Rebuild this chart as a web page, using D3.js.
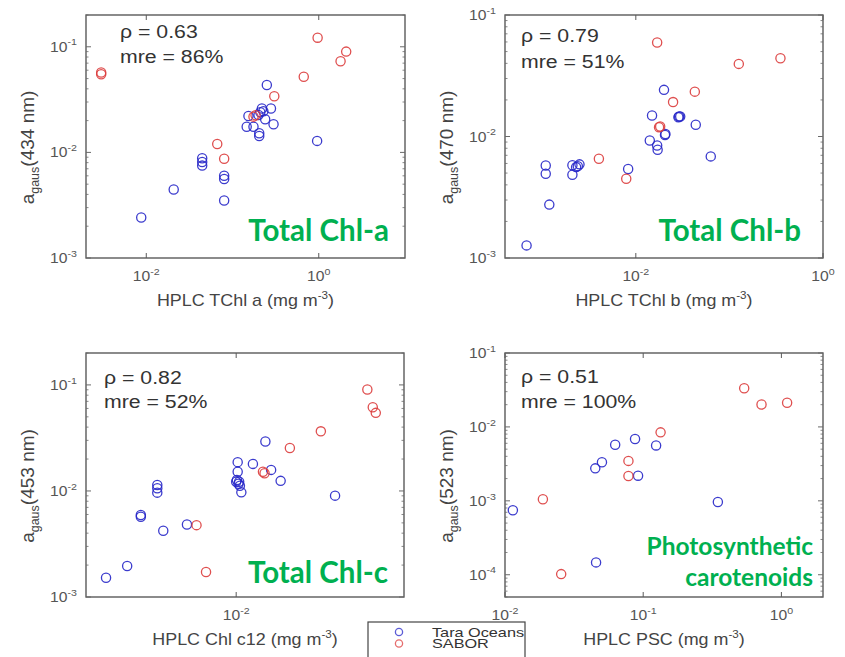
<!DOCTYPE html>
<html>
<head>
<meta charset="utf-8">
<script src="https://cdn.jsdelivr.net/npm/d3@7/dist/d3.min.js"></script>
<style>
  html, body { margin: 0; padding: 0; background: #fff; }
  svg { display: block; }
  text { font-family: "Liberation Sans", Arial, Helvetica, sans-serif; }
  .green { font-family: Lato, "Open Sans", sans-serif; font-weight: 700; fill: #00b050; }
</style>
</head>
<body>
<svg id="chart" width="845" height="657"></svg>
<script>
// ---------------- DATA ----------------
// Panel 1: Total Chl-a
const chlaTaraX  = [0.00874, 0.0208, 0.0445, 0.0445, 0.0445, 0.08, 0.08, 0.08, 0.25, 0.219, 0.228, 0.21, 0.279, 0.2, 0.153, 0.146, 0.175, 0.239, 0.299, 0.204, 0.204, 0.957];
const chlaTaraY  = [0.00242, 0.00445, 0.0088, 0.0081, 0.0075, 0.006, 0.0056, 0.0035, 0.0435, 0.026, 0.0245, 0.024, 0.026, 0.0226, 0.0221, 0.0175, 0.0175, 0.0206, 0.0185, 0.0152, 0.0143, 0.01285];
const chlaSaborX = [0.003, 0.003, 0.97, 2.08, 1.79, 0.67, 0.305, 0.175, 0.185, 0.0665, 0.08];
const chlaSaborY = [0.055, 0.057, 0.122, 0.09, 0.073, 0.052, 0.034, 0.0218, 0.0225, 0.012, 0.0087];

// Panel 2: Total Chl-b
const chlbTaraX  = [0.00068, 0.00119, 0.00109, 0.00109, 0.0021, 0.0023, 0.0025, 0.0021, 0.0024, 0.00828, 0.02, 0.0149, 0.0141, 0.0169, 0.0171, 0.0207, 0.0205, 0.029, 0.0298, 0.0285, 0.0437, 0.0632];
const chlbTaraY  = [0.00127, 0.00275, 0.00578, 0.00494, 0.0058, 0.0056, 0.0059, 0.00484, 0.0057, 0.0054, 0.0242, 0.0149, 0.00927, 0.00843, 0.00778, 0.0105, 0.0103, 0.0146, 0.0146, 0.0144, 0.01248, 0.00686];
const chlbSaborX = [0.0169, 0.126, 0.351, 0.0427, 0.025, 0.0177, 0.0182, 0.00403, 0.0079];
const chlbSaborY = [0.0593, 0.0396, 0.044, 0.0234, 0.0192, 0.0119, 0.0121, 0.00656, 0.00449];

// Panel 3: Total Chl-c
const chlcTaraX  = [0.00182, 0.0024, 0.00287, 0.00287, 0.00356, 0.00356, 0.00356, 0.00385, 0.00525, 0.0102, 0.0102, 0.0101, 0.0104, 0.0103, 0.0105, 0.0107, 0.0100, 0.01245, 0.01466, 0.0158, 0.0179, 0.0365];
const chlcTaraY  = [0.00152, 0.00196, 0.00593, 0.00571, 0.0114, 0.0106, 0.00964, 0.00421, 0.00483, 0.0187, 0.0152, 0.0127, 0.0122, 0.0117, 0.0112, 0.0097, 0.0122, 0.018, 0.0293, 0.0158, 0.01245, 0.00903];
const chlcSaborX = [0.00595, 0.00674, 0.0142, 0.0145, 0.0202, 0.0303, 0.0557, 0.0598, 0.0622];
const chlcSaborY = [0.00476, 0.00172, 0.0152, 0.0147, 0.0254, 0.0365, 0.0906, 0.0616, 0.0545];

// Panel 4: Photosynthetic carotenoids
const pscTaraX  = [0.0114, 0.045, 0.0503, 0.0627, 0.0873, 0.124, 0.0918, 0.347, 0.0456];
const pscTaraY  = [0.000745, 0.00275, 0.00333, 0.00574, 0.00686, 0.00562, 0.00219, 0.000966, 0.000147];
const pscSaborX = [0.538, 0.718, 1.1, 0.1336, 0.0782, 0.0782, 0.0188, 0.0255];
const pscSaborY = [0.0333, 0.0201, 0.0212, 0.00844, 0.00347, 0.00217, 0.00105, 0.000102];

const rhoValues   = ["0.63", "0.79", "0.82", "0.51"];
const mreValues   = ["86%", "51%", "52%", "100%"];
const wavelengths = [434, 470, 453, 523];
const xLabelText  = ["HPLC TChl a", "HPLC TChl b", "HPLC Chl c12", "HPLC PSC"];
const panelTitles = [["Total Chl-a"], ["Total Chl-b"], ["Total Chl-c"], ["Photosynthetic", "carotenoids"]];
const xDomains = [[0.002, 10], [0.0004, 1], [0.0014, 0.09], [0.01, 2]];
const yDomains = [[0.001, 0.2], [0.001, 0.1], [0.001, 0.2], [0.00005, 0.1]];
const xTickValues = [[0.01, 1], [0.01, 1], [0.01], [0.01, 0.1, 1]];
const yTickValues = [[0.001, 0.01, 0.1], [0.001, 0.01, 0.1], [0.001, 0.01, 0.1], [0.0001, 0.001, 0.01, 0.1]];
const seriesNames = ["Tara Oceans", "SABOR"];

// ---------------- LAYOUT / STYLE ----------------
const COLORS = ["#2626c8", "#dc3c3c"];
const boxes = [
  {x0: 86,  x1: 405, y0: 15,  y1: 258},
  {x0: 505, x1: 823, y0: 15,  y1: 258},
  {x0: 86,  x1: 404, y0: 353, y1: 597},
  {x0: 505, x1: 823, y0: 353, y1: 597}
];
const statOffsets = [34, 16, 18, 16];
const statBase = [[38, 63], [42, 68], [384, 408], [383, 408]];
const titleStyle = [
  {x: 389, ys: [241], size: 29.5},
  {x: 801, ys: [241], size: 29.5},
  {x: 388, ys: [583], size: 29.5},
  {x: 813, ys: [555, 586], size: 24.5}
];

const series = [
  [[chlaTaraX, chlaTaraY], [chlaSaborX, chlaSaborY]],
  [[chlbTaraX, chlbTaraY], [chlbSaborX, chlbSaborY]],
  [[chlcTaraX, chlcTaraY], [chlcSaborX, chlcSaborY]],
  [[pscTaraX, pscTaraY], [pscSaborX, pscSaborY]]
];

const svg = d3.select("#chart");
const SX = 1.12; // horizontal text stretch of the source figure
const AX = "#5a5a5a";

function powLabel(sel, v, size) {
  const e = Math.round(Math.log10(v));
  sel.append("tspan").text("10");
  sel.append("tspan").attr("font-size", size * 0.68).attr("dy", -size * 0.45).text(String(e));
}

boxes.forEach((b, i) => {
  const x = d3.scaleLog().domain(xDomains[i]).range([b.x0, b.x1]);
  const y = d3.scaleLog().domain(yDomains[i]).range([b.y1, b.y0]);
  const g = svg.append("g");

  // box
  g.append("rect").attr("x", b.x0).attr("y", b.y0)
    .attr("width", b.x1 - b.x0).attr("height", b.y1 - b.y0)
    .attr("fill", "#fff").attr("stroke", AX).attr("stroke-width", 1.4);

  // x major ticks (inside, top and bottom)
  xTickValues[i].forEach(v => {
    const px = x(v);
    g.append("line").attr("x1", px).attr("x2", px).attr("y1", b.y1).attr("y2", b.y1 - 5).attr("stroke", AX);
    g.append("line").attr("x1", px).attr("x2", px).attr("y1", b.y0).attr("y2", b.y0 + 5).attr("stroke", AX);
  });
  // y minor + major ticks (inside, left and right)
  const majorY = new Set(yTickValues[i].map(v => Math.round(Math.log10(v))));
  y.ticks().forEach(v => {
    const l = Math.log10(v);
    const big = Math.abs(l - Math.round(l)) < 1e-6 && majorY.has(Math.round(l));
    const L = big ? 5 : 2.5;
    const py = y(v);
    [[b.x0, b.x0 + L], [b.x1, b.x1 - L]].forEach(([a, c]) => {
      g.append("line").attr("x1", a).attr("x2", c).attr("y1", py).attr("y2", py)
        .attr("stroke", "#6a6a6a").attr("stroke-width", big ? 1 : 0.8);
    });
  });

  // tick labels
  const TS = 14;
  xTickValues[i].forEach(v => {
    const t = g.append("text").attr("transform", `translate(${x(v)},${b.y1 + 23}) scale(${SX},1)`)
      .attr("text-anchor", "middle").attr("font-size", TS).attr("fill", "#555");
    powLabel(t, v, TS);
  });
  yTickValues[i].forEach(v => {
    const t = g.append("text").attr("transform", `translate(${b.x0 - 9},${y(v) + 5}) scale(${SX},1)`)
      .attr("text-anchor", "end").attr("font-size", TS).attr("fill", "#555");
    powLabel(t, v, TS);
  });

  // x label
  const LS = 16;
  const xl = g.append("text").attr("transform", `translate(${(b.x0 + b.x1) / 2},${b.y1 + 48}) scale(${SX},1)`)
    .attr("text-anchor", "middle").attr("font-size", LS).attr("fill", "#444");
  xl.append("tspan").text(xLabelText[i] + " (mg m");
  xl.append("tspan").attr("font-size", LS * 0.65).attr("dy", -LS * 0.45).text("-3");
  xl.append("tspan").attr("dy", LS * 0.45).text(")");

  // y label (rotated)
  const yl = g.append("text").attr("transform", `translate(${b.x0 - 52},${(b.y0 + b.y1) / 2 + 11}) rotate(-90)`)
    .attr("text-anchor", "middle").attr("font-size", 19).attr("fill", "#444");
  yl.append("tspan").text("a");
  yl.append("tspan").attr("font-size", 12.5).attr("dy", 4.5).text("gaus");
  yl.append("tspan").attr("dy", -4.5).text("(" + wavelengths[i] + " nm)");

  // stats
  const st = statOffsets[i];
  g.append("text").attr("transform", `translate(${b.x0 + st},${statBase[i][0]}) scale(${SX},1)`)
    .attr("font-size", 19).attr("fill", "#333").text("\u03C1 = " + rhoValues[i]);
  g.append("text").attr("transform", `translate(${b.x0 + st},${statBase[i][1]}) scale(${SX},1)`)
    .attr("font-size", 19).attr("fill", "#333").text("mre = " + mreValues[i]);

  // points
  series[i].forEach((s, k) => {
    const pts = d3.zip(s[0], s[1]);
    g.append("g").selectAll("circle").data(pts).join("circle")
      .attr("cx", d => x(d[0])).attr("cy", d => y(d[1])).attr("r", 4.6)
      .attr("fill", "none").attr("stroke", COLORS[k]).attr("stroke-width", 1.3)
      .attr("stroke-opacity", 0.9);
  });

  // panel title (green)
  const ts = titleStyle[i];
  panelTitles[i].forEach((line, j) => {
    g.append("text").attr("class", "green").attr("x", ts.x).attr("y", ts.ys[j])
      .attr("text-anchor", "end").attr("font-size", ts.size).text(line);
  });
});

// legend
const lg = svg.append("g");
lg.append("rect").attr("x", 368).attr("y", 622).attr("width", 157).attr("height", 50)
  .attr("fill", "#fff").attr("stroke", "#444").attr("stroke-width", 1.2);
seriesNames.forEach((n, k) => {
  const cy = 632 + k * 11.5;
  lg.append("circle").attr("cx", 399).attr("cy", cy).attr("r", 3.6)
    .attr("fill", "none").attr("stroke", COLORS[k]).attr("stroke-width", 1.3).attr("stroke-opacity", 0.75);
  lg.append("text").attr("transform", `translate(432,${cy + 4.5}) scale(1.25,1)`)
    .attr("font-size", 13).attr("fill", "#333").text(n);
});
</script>
</body>
</html>
